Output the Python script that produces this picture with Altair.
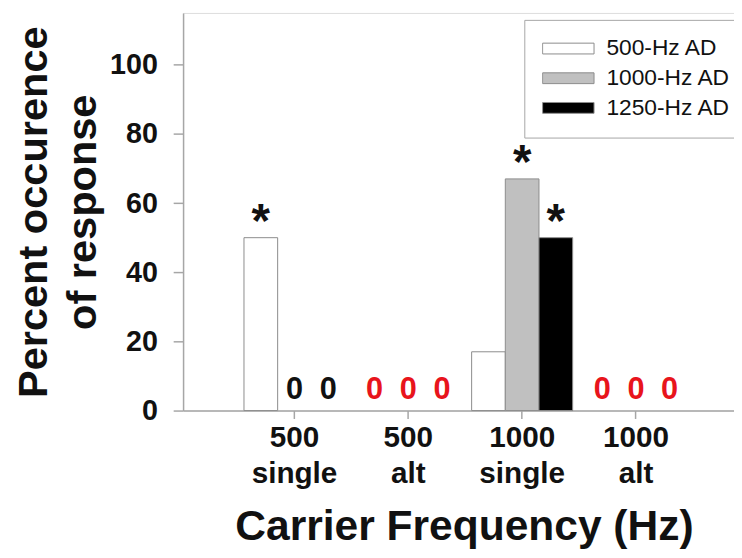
import altair as alt
import pandas as pd

# ---- data ----
categories = ["500 single", "500 alt", "1000 single", "1000 alt"]
series = ["500-Hz AD", "1000-Hz AD", "1250-Hz AD"]
series_colors = ["#ffffff", "#c0c0c0", "#000000"]

values_500hz = [50, 0, 17, 0]
values_1000hz = [0, 0, 67, 0]
values_1250hz = [0, 0, 50, 0]

stars_500hz = ["*", "", "", ""]
stars_1000hz = ["", "", "*", ""]
stars_1250hz = ["", "", "*", ""]

zero_color_by_category = ["#111111", "#e8141c", "#111111", "#e8141c"]

rows = []
for s, vals, stars in zip(series, [values_500hz, values_1000hz, values_1250hz],
                          [stars_500hz, stars_1000hz, stars_1250hz]):
    for c, v, st, zc in zip(categories, vals, stars, zero_color_by_category):
        rows.append({"category": c, "series": s, "value": v, "star": st,
                     "zero_text": "0" if v == 0 else "", "zero_color": zc})
df = pd.DataFrame(rows)

FONT = "Liberation Sans"

base = alt.Chart(df).encode(
    x=alt.X(
        "category:N",
        sort=categories,
        scale=alt.Scale(domain=categories, paddingInner=0, paddingOuter=0.42, align=0.57),
        title="Carrier Frequency (Hz)",
        axis=alt.Axis(
            labelExpr="split(datum.label, ' ')",
            labelAngle=0,
            labelFont=FONT, labelFontSize=30, labelFontWeight="bold", labelColor="#111111",
            labelLineHeight=37, labelPadding=4,
            tickSize=8, tickColor="#a6a6a6", tickWidth=1.5,
            domainColor="#a6a6a6", domainWidth=1.5,
            titleFont=FONT, titleFontSize=43, titleFontWeight="bold", titleColor="#111111",
            titlePadding=17, titleX=284,
            grid=False,
        ),
    ),
    xOffset=alt.XOffset(
        "series:N", sort=series,
        scale=alt.Scale(domain=series, paddingInner=0, paddingOuter=0.19),
    ),
)

y_enc = alt.Y(
    "value:Q",
    scale=alt.Scale(domain=[0, 115], nice=False),
    title=["Percent occurence", "of response"],
    axis=alt.Axis(
        values=[0, 20, 40, 60, 80, 100],
        labelFont=FONT, labelFontSize=29, labelFontWeight="bold", labelColor="#111111",
        labelPadding=16,
        tickSize=10, tickColor="#a6a6a6", tickWidth=1.5,
        domainColor="#a6a6a6", domainWidth=1.5,
        titleFont=FONT, titleFontSize=42, titleFontWeight="bold", titleColor="#111111",
        titleLineHeight=50, titlePadding=5,
        grid=False,
    ),
)

bars = base.transform_filter("datum.value > 0").mark_bar(
    stroke="#8c8c8c", strokeWidth=1
).encode(
    y=y_enc,
    fill=alt.Fill(
        "series:N", sort=series,
        scale=alt.Scale(domain=series, range=series_colors),
        legend=alt.Legend(
            title=None,
            orient="none", legendX=345, legendY=7,
            strokeColor="#a6a6a6", fillColor="#ffffff", padding=18,
            symbolType="M-1,-0.21L1,-0.21L1,0.21L-1,0.21Z",
            symbolSize=2704, symbolStrokeWidth=1, symbolStrokeColor="#8c8c8c",
            symbolOffset=0, labelOffset=12, clipHeight=22, rowPadding=7,
            labelFont=FONT, labelFontSize=23, labelFontWeight="normal", labelColor="#111111",
            labelLimit=300,
        ),
    ),
)

stars = base.transform_filter("datum.star != ''").mark_text(
    font=FONT, fontSize=48, fontWeight="bold", baseline="alphabetic", dy=-1, color="#111111"
).encode(y=alt.Y("value:Q"), text="star:N")

zeros = base.transform_filter("datum.value == 0").mark_text(
    font=FONT, fontSize=31, fontWeight="bold", baseline="alphabetic", dy=-12
).encode(
    y=alt.Y("value:Q"),
    text="zero_text:N",
    fill=alt.Fill("zero_color:N", scale=None),
)

chart = alt.layer(bars, stars, zeros).properties(
    width=557, height=402,
    autosize=alt.AutoSizeParams(type="none"),
    padding={"left": 177, "top": 2, "right": 0, "bottom": 140},
).configure_view(
    stroke="#a6a6a6", strokeWidth=1.5
).configure(background="#ffffff")

chart.save("out.html", embed_options={"renderer": "svg", "actions": False})
